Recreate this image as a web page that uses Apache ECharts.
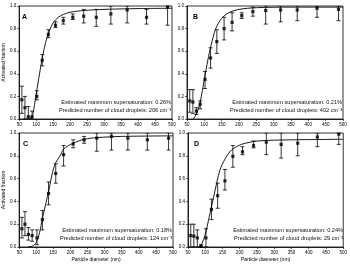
<!DOCTYPE html>
<html style="height: 100%">
<head>
    <meta charset="utf-8">
</head>
<body style="height: 100%; margin: 0; background: #fff">
    <div id="container" style="width: 350px; height: 267px"></div>
    <script src="https://cdn.jsdelivr.net/npm/echarts@6/dist/echarts.min.js"></script>
    <script type="text/javascript">
        // particle diameters (nm), same bins in every panel
        var diameters = [58, 67, 77, 88, 102, 118, 136, 157, 180, 208, 240, 277, 320, 368, 425, 487];

        // panel A
        var fracA = [0.17, 0.10, 0.02, 0.02, 0.20, 0.52, 0.75, 0.83, 0.87, 0.90, 0.91, 0.90, 0.93, 0.965, 0.90, 0.99];
        var loA = [0.05, 0.00, 0.00, 0.00, 0.17, 0.47, 0.72, 0.81, 0.84, 0.88, 0.85, 0.82, 0.84, 0.85, 0.84, 0.83];
        var hiA = [0.29, 0.20, 0.11, 0.07, 0.25, 0.57, 0.79, 0.86, 0.90, 0.93, 0.97, 0.97, 1.00, 1.00, 0.97, 1.00];
        var fitDA = [82, 90, 100, 110, 120, 130, 140, 150, 165, 180, 200, 240, 300, 400, 500];
        var fitFA = [0, 0.04, 0.22, 0.40, 0.57, 0.70, 0.79, 0.85, 0.90, 0.925, 0.945, 0.96, 0.97, 0.977, 0.98];

        // panel B
        var fracB = [0.16, 0.15, 0.07, 0.13, 0.35, 0.54, 0.685, 0.80, 0.855, 0.915, 0.95, 0.96, 0.965, 0.965, 0.98, 0.97];
        var loB = [0.06, 0.05, 0.04, 0.09, 0.27, 0.45, 0.58, 0.70, 0.78, 0.89, 0.91, 0.84, 0.86, 0.87, 0.90, 0.87];
        var hiB = [0.26, 0.26, 0.10, 0.16, 0.42, 0.63, 0.79, 0.90, 0.94, 0.94, 0.99, 1.00, 1.00, 1.00, 1.00, 1.00];
        var fitDB = [68, 78, 88, 100, 110, 120, 133, 150, 170, 200, 250, 350, 500];
        var fitFB = [0, 0.05, 0.15, 0.35, 0.52, 0.66, 0.80, 0.89, 0.94, 0.97, 0.985, 0.99, 0.99];

        // panel C
        var fracC = [0.16, 0.20, 0.11, 0.10, 0.08, 0.24, 0.47, 0.645, 0.81, 0.905, 0.94, 0.955, 0.97, 0.955, 0.94, 0.955];
        var loC = [0.08, 0.10, 0.06, 0.05, 0.02, 0.15, 0.37, 0.56, 0.71, 0.87, 0.91, 0.84, 0.85, 0.85, 0.85, 0.85];
        var hiC = [0.26, 0.31, 0.17, 0.15, 0.15, 0.32, 0.57, 0.73, 0.89, 0.94, 0.97, 1.00, 1.00, 1.00, 1.00, 1.00];
        var fitDC = [75, 90, 100, 110, 118, 128, 137, 148, 157, 170, 180, 208, 240, 280, 350, 500];
        var fitFC = [0, 0.01, 0.04, 0.13, 0.25, 0.38, 0.50, 0.66, 0.74, 0.80, 0.86, 0.91, 0.945, 0.96, 0.97, 0.975];

        // panel D
        var fracD = [0.10, 0.095, 0.08, 0.005, 0.08, 0.33, 0.45, 0.58, 0.795, 0.835, 0.89, 0.92, 0.90, 0.91, 0.965, 0.99];
        var loD = [0.00, 0.00, 0.00, 0.00, 0.00, 0.24, 0.34, 0.50, 0.70, 0.81, 0.87, 0.81, 0.78, 0.80, 0.88, 0.90];
        var hiD = [0.20, 0.20, 0.15, 0.02, 0.16, 0.42, 0.56, 0.68, 0.89, 0.88, 0.93, 1.00, 1.00, 1.00, 1.00, 1.00];
        var fitDD = [80, 90, 99, 112, 128, 142, 157, 176, 205, 253, 350, 500];
        var fitFD = [0, 0.03, 0.10, 0.27, 0.49, 0.67, 0.77, 0.85, 0.90, 0.93, 0.94, 0.945];

        var panelLetters = ['A', 'B', 'C', 'D'];
        var supersat = ['0.26%', '0.21%', '0.18%', '0.24%'];
        var droplets = ['206', '402', '124', '29'];

        var panels = [
            { frac: fracA, lo: loA, hi: hiA, fd: fitDA, ff: fitFA },
            { frac: fracB, lo: loB, hi: hiB, fd: fitDB, ff: fitFB },
            { frac: fracC, lo: loC, hi: hiC, fd: fitDC, ff: fitFC },
            { frac: fracD, lo: loD, hi: hiD, fd: fitDD, ff: fitFD }
        ];
        var boxes = [
            { left: 16, top: 6, width: 156, height: 113 },
            { left: 187, top: 6, width: 156, height: 113 },
            { left: 17, top: 133, width: 156, height: 114 },
            { left: 188, top: 133, width: 156, height: 114 }
        ];

        var font = 'Liberation Sans, Arial, sans-serif';

        function errRender(params, api) {
            var x = api.value(0);
            var top = api.coord([x, api.value(2)]);
            var bot = api.coord([x, api.value(1)]);
            var w = 2;
            var st = { stroke: '#000', lineWidth: 0.8 };
            return {
                type: 'group',
                children: [
                    { type: 'line', shape: { x1: top[0], y1: top[1], x2: bot[0], y2: bot[1] }, style: st },
                    { type: 'line', shape: { x1: top[0] - w, y1: top[1], x2: top[0] + w, y2: top[1] }, style: st },
                    { type: 'line', shape: { x1: bot[0] - w, y1: bot[1], x2: bot[0] + w, y2: bot[1] }, style: st }
                ]
            };
        }

        var grid = [], xAxis = [], yAxis = [], series = [], graphic = [];
        panels.forEach(function (p, i) {
            var b = boxes[i];
            grid.push({ left: b.left, top: b.top, width: b.width, height: b.height, show: true,
                borderColor: '#000', borderWidth: 0.8, backgroundColor: 'transparent' });
            xAxis.push({
                type: 'value', gridIndex: i, min: 50, max: 500, interval: 50,
                name: i >= 2 ? 'Particle diameter (nm)' : '',
                nameLocation: 'middle', nameGap: 10,
                nameTextStyle: { fontSize: 5, fontFamily: font, color: '#000' },
                axisLine: { lineStyle: { color: '#000', width: 0.8 } },
                axisTick: { length: 2, lineStyle: { color: '#000', width: 0.6 } },
                axisLabel: { fontSize: 4.5, fontFamily: font, color: '#000', margin: 3, interval: 0 },
                splitLine: { show: false }
            });
            yAxis.push({
                type: 'value', gridIndex: i, min: 0, max: 1, interval: 0.2,
                name: (i % 2 === 0) ? 'Activated fraction' : '',
                nameLocation: 'middle', nameGap: 11,
                nameTextStyle: { fontSize: 5, fontFamily: font, color: '#000' },
                axisLine: { lineStyle: { color: '#000', width: 0.8 } },
                axisTick: { length: 2, lineStyle: { color: '#000', width: 0.6 } },
                axisLabel: { fontSize: 4.5, fontFamily: font, color: '#000', margin: 3,
                    formatter: function (v) { return v.toFixed(1); } },
                splitLine: { show: false }
            });
            series.push({
                type: 'line', xAxisIndex: i, yAxisIndex: i, showSymbol: false, smooth: 0.3,
                data: p.fd.map(function (d, k) { return [d, p.ff[k]]; }),
                lineStyle: { color: '#000', width: 0.9 }, silent: true, animation: false
            });
            series.push({
                type: 'custom', xAxisIndex: i, yAxisIndex: i, renderItem: errRender,
                data: diameters.map(function (d, k) { return [d, p.lo[k], p.hi[k]]; }),
                silent: true, animation: false, clip: true
            });
            series.push({
                type: 'scatter', xAxisIndex: i, yAxisIndex: i, symbol: 'rect', symbolSize: 3.2,
                itemStyle: { color: '#000' },
                data: diameters.map(function (d, k) { return [d, p.frac[k]]; }),
                silent: true, animation: false
            });
            graphic.push({
                type: 'text', left: b.left + 6, top: b.top + 8,
                style: { text: panelLetters[i], font: 'bold 7px ' + font, fill: '#000' }
            });
            graphic.push({
                type: 'text', x: b.left + b.width - 1, y: b.top + b.height - 20,
                style: {
                    text: 'Estimated maximum supersaturation: ' + supersat[i] +
                        '\nPredicted number of cloud droplets: ' + droplets[i] + ' cm\u207B\u00B3',
                    font: '5.6px ' + font, fill: '#111', align: 'right', lineHeight: 7.5
                }
            });
        });

        var chart = echarts.init(document.getElementById('container'));
        chart.setOption({
            animation: false,
            grid: grid, xAxis: xAxis, yAxis: yAxis, series: series, graphic: graphic
        });
    </script>
</body>
</html>
